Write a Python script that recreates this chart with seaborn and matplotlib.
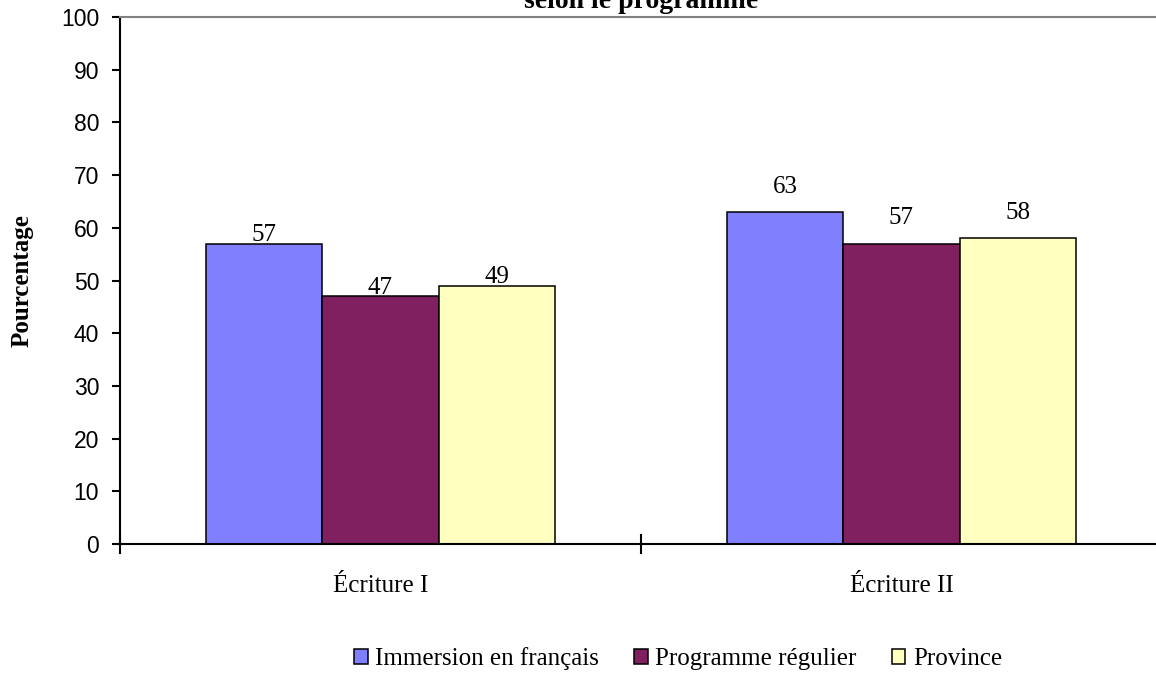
import matplotlib
matplotlib.use("Agg")
import matplotlib.pyplot as plt
from matplotlib.patches import Patch
import seaborn as sns
import pandas as pd

categories = ["Écriture I", "Écriture II"]
series = ["Immersion en français", "Programme régulier", "Province"]
immersion = [57, 63]
regulier = [47, 57]
province = [49, 58]
colors = ["#8080FF", "#802060", "#FFFFC0"]
yticks = [0, 10, 20, 30, 40, 50, 60, 70, 80, 90, 100]

rows = []
for s, vals in zip(series, [immersion, regulier, province]):
    for c, v in zip(categories, vals):
        rows.append({"cat": c, "serie": s, "val": v})
df = pd.DataFrame(rows)

sns.set_theme(style="white")
plt.rcParams["text.color"] = "black"
plt.rcParams["axes.labelcolor"] = "black"
plt.rcParams["xtick.color"] = "black"
plt.rcParams["ytick.color"] = "black"
SERIF = ["Liberation Serif", "DejaVu Serif"]
SANS = ["Liberation Sans", "DejaVu Sans"]

fig = plt.figure(figsize=(11.56, 6.75), dpi=100)
ax = fig.add_axes([120 / 1156, 1 - 544 / 675, 1042 / 1156, 527 / 675])

sns.barplot(data=df, x="cat", y="val", hue="serie", order=categories,
            hue_order=series, palette=colors, width=0.668, gap=0,
            edgecolor="black", linewidth=1.1, saturation=1, ax=ax,
            legend=False, errorbar=None)

ax.set_xlim(-0.5, 1.5)
ax.set_ylim(0, 100)
ax.set_yticks(yticks)
ax.set_yticklabels([str(t) for t in yticks], fontfamily=SANS, fontsize=16.5,
                   color="black")
ax.tick_params(axis="y", direction="out", length=6, width=1.5, color="black",
               pad=9, left=True)
ax.set_xticks([0, 1])
ax.set_xticklabels(categories, fontfamily=SERIF, fontsize=18, color="black")
ax.set_xticks([-0.5, 0.5, 1.5], minor=True)
ax.tick_params(axis="x", which="major", length=0, pad=22)
ax.tick_params(axis="x", which="minor", direction="inout", length=14,
               width=1.5, color="black", bottom=True)
ax.set_xlabel("")
ax.set_ylabel("Pourcentage", fontfamily=SERIF, fontsize=18,
              fontweight="bold", labelpad=20, color="black")

for side in ["left", "bottom"]:
    ax.spines[side].set_color("black")
    ax.spines[side].set_linewidth(1.5)
ax.spines["top"].set_color("#808080")
ax.spines["top"].set_linewidth(1.5)
ax.spines["right"].set_visible(False)

# value labels
offsets = [2, 14]
for cont in ax.containers:
    for i, bar in enumerate(cont):
        h = bar.get_height()
        ax.annotate(f"{h:.0f}", (bar.get_x() + bar.get_width() / 2, h),
                    xytext=(0, offsets[i]), textcoords="offset points",
                    ha="center", va="baseline", fontfamily=SERIF, fontsize=18,
                    color="black")

fig.text(641 / 1156, 1 - 8 / 675, "selon le programme", ha="center",
         va="baseline", fontfamily=SERIF, fontsize=20, fontweight="bold",
         color="black")

handles = [Patch(facecolor=c, edgecolor="black", linewidth=1.1) for c in colors]
fig.legend(handles, series, loc="center", bbox_to_anchor=(678 / 1156, 1 - 659 / 675),
           ncol=3, frameon=False, prop={"family": SERIF, "size": 18},
           handlelength=0.55, handleheight=0.55, handletextpad=0.3,
           columnspacing=1.4, borderaxespad=0)

fig.savefig("out.png", dpi=100)
